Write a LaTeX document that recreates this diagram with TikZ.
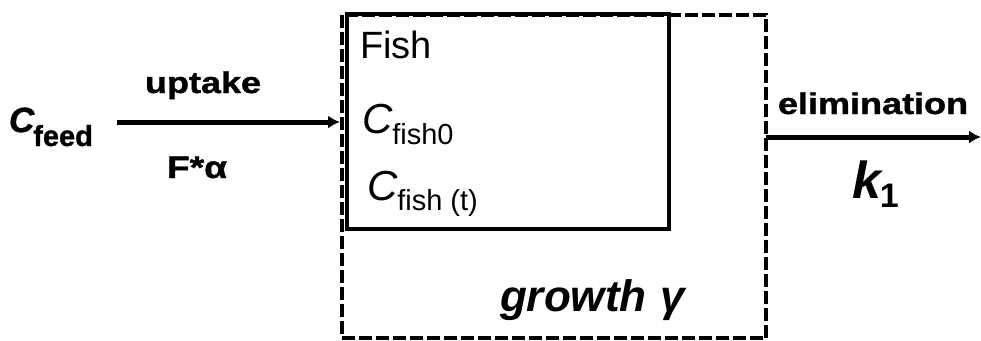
\documentclass[tikz,border=0pt]{standalone}
\usepackage{fontspec}
\setmainfont{Liberation Sans}
\usetikzlibrary{arrows.meta}
\newcommand{\fs}[1]{\fontsize{#1}{#1}\selectfont}
\newcommand{\heavy}{\addfontfeature{FakeBold=1.2}}
\tikzset{
  lbl/.style={anchor=base west, inner sep=0pt, outer sep=0pt},
  flow/.style={line width=5pt, -{Latex[length=12pt,width=13pt]}},
  boxsolid/.style={draw, line width=4pt, inner sep=0pt, outer sep=0pt},
  boxdash/.style={draw, line width=4pt, dash pattern=on 13pt off 4pt, inner sep=0pt, outer sep=0pt}
}
\begin{document}
\begin{tikzpicture}[x=1pt,y=-1pt]
\useasboundingbox (0,0) rectangle (981,340);
% boxes
\node[boxdash, minimum width=424.5pt, minimum height=323.5pt] (outer) at (553.75,176.25) {};
\node[boxsolid, minimum width=322pt, minimum height=215pt] (inner) at (508,121.5) {};
% labels
\node[lbl] (cfeed) at (9,132) {\fs{35}\bfseries\itshape\heavy C\kern-1pt\raisebox{-14pt}{\fs{29}\upshape\heavy feed}};
\node[lbl] (uptake) at (145,93) {\scalebox{1.2}[1]{\fs{30}\bfseries\heavy uptake}};
\node[lbl] (falpha) at (167,178) {\scalebox{1.2}[1]{\fs{31}\bfseries\heavy F*α}};
\node[lbl] (fish) at (360,58) {\fs{38}Fish};
\node[lbl] (cfish0) at (362,133) {\fs{42}\itshape C\raisebox{-11pt}{\fs{29}\upshape fish0}};
\node[lbl] (cfisht) at (367,200) {\fs{42}\itshape C\raisebox{-10pt}{\fs{29}\upshape fish (t)}};
\node[lbl] (growth) at (500,311) {\fs{44}\bfseries\itshape growth\hspace{14pt}γ};
\node[lbl] (elim) at (778,114) {\scalebox{1.2}[1]{\fs{30}\bfseries\heavy elimination}};
\node[lbl] (k1) at (852,198) {\fs{52}\bfseries\itshape k\kern-1pt\raisebox{-9pt}{\fs{34}\upshape 1}};
% connectors
\coordinate (inStart) at (117,122);
\coordinate (outEnd) at (981,137);
\draw[flow, shorten >=1.5pt] (inStart) -- (inStart -| outer.west);
\draw[flow] (outEnd -| outer.east) -- (outEnd);
\end{tikzpicture}
\end{document}
